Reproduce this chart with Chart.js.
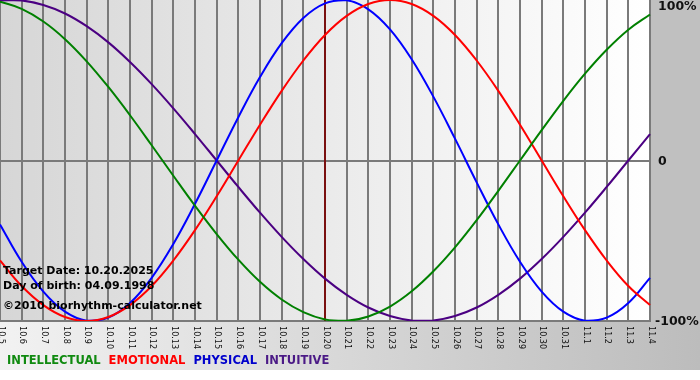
<!DOCTYPE html>
<html><head><meta charset="utf-8">
<script src="https://cdn.jsdelivr.net/npm/chart.js@4"></script>
<style>html,body{margin:0;padding:0;background:#fff;overflow:hidden}#wrap{width:700px;height:380px}</style>
</head><body><div id="wrap"><canvas id="c" width="700" height="380"></canvas></div>
<script>
// ---- data ----
const categories = ['10.5','10.6','10.7','10.8','10.9','10.10','10.11','10.12','10.13','10.14','10.15','10.16','10.17','10.18','10.19','10.20','10.21','10.22','10.23','10.24','10.25','10.26','10.27','10.28','10.29','10.30','10.31','11.1','11.2','11.3','11.4'];
const intellectual = [0.990,0.945,0.866,0.756,0.618,0.458,0.282,0.095,-0.095,-0.282,-0.458,-0.618,-0.756,-0.866,-0.945,-0.990,-0.999,-0.972,-0.910,-0.815,-0.690,-0.541,-0.372,-0.189,0,0.189,0.372,0.541,0.690,0.815,0.910];
const emotional    = [-0.623,-0.782,-0.901,-0.975,-1,-0.975,-0.901,-0.782,-0.623,-0.434,-0.223,0,0.223,0.434,0.623,0.782,0.901,0.975,1,0.975,0.901,0.782,0.623,0.434,0.223,0,-0.223,-0.434,-0.623,-0.782,-0.901];
const physical     = [-0.398,-0.631,-0.817,-0.942,-0.998,-0.979,-0.888,-0.731,-0.520,-0.270,0,0.270,0.520,0.731,0.888,0.979,0.998,0.942,0.817,0.631,0.398,0.136,-0.136,-0.398,-0.631,-0.817,-0.942,-0.998,-0.979,-0.888,-0.731];
const intuitive    = [0.997,0.997,0.969,0.916,0.837,0.736,0.614,0.476,0.325,0.165,0,-0.165,-0.325,-0.476,-0.614,-0.736,-0.837,-0.916,-0.969,-0.997,-0.997,-0.969,-0.916,-0.837,-0.736,-0.614,-0.476,-0.325,-0.165,0,0.165];
const seriesNames  = ['INTELLECTUAL','EMOTIONAL','PHYSICAL','INTUITIVE'];
const yTickValues  = [1, 0, -1];
const yTickLabels  = ['100%','0','-100%'];
const targetDate   = '10.20';
const infoLines    = ['Target Date: 10.20.2025','Day of birth: 04.09.1998','\u00A92010 biorhythm-calculator.net'];

// ---- styles ----
const colors = ['#008000','#ff0000','#0000ff','#4b0082'];
const legendColors = ['#108a10','#ff0000','#0000cc','#4b1a86'];
const gridColor = '#7a7a7a';

const bgPlugin = {
  id: 'bg',
  beforeDraw(chart) {
    const {ctx, chartArea: a, width, height} = chart;
    ctx.save();
    ctx.fillStyle = '#ffffff';
    ctx.fillRect(0, 0, width, height);
    ctx.fillStyle = '#c0c0c0';
    ctx.fillRect(a.right, 0, width - a.right, a.bottom);
    let g = ctx.createLinearGradient(0, 0, width, 0);
    g.addColorStop(0, '#f2f2f2');
    g.addColorStop(1, '#bcbcbc');
    ctx.fillStyle = g;
    ctx.fillRect(0, a.bottom, width, 49);
    g = ctx.createLinearGradient(a.left, 0, a.right, 0);
    g.addColorStop(0, '#d6d6d6');
    g.addColorStop(1, '#ffffff');
    ctx.fillStyle = g;
    ctx.fillRect(a.left, a.top, a.right - a.left, a.bottom - a.top);
    ctx.restore();
  },
  beforeDatasetsDraw(chart) {
    const {ctx, chartArea: a} = chart;
    const xs = chart.scales.x;
    const x = xs.getPixelForValue(categories.indexOf(targetDate));
    ctx.save();
    ctx.strokeStyle = '#7a1010';
    ctx.lineWidth = 2;
    ctx.beginPath();
    ctx.moveTo(x, a.top);
    ctx.lineTo(x, a.bottom);
    ctx.stroke();
    ctx.restore();
  },
  afterDraw(chart) {
    const {ctx, chartArea: a} = chart;
    const xs = chart.scales.x, ys = chart.scales.y;
    ctx.save();
    // x tick labels, rotated clockwise
    ctx.fillStyle = '#111';
    ctx.font = '9px "DejaVu Sans Condensed", "DejaVu Sans", sans-serif';
    ctx.textAlign = 'left';
    ctx.textBaseline = 'middle';
    categories.forEach((c, i) => {
      const x = xs.getPixelForValue(i);
      ctx.save();
      ctx.translate(x + 1, a.bottom + 5);
      ctx.rotate(Math.PI / 2);
      ctx.fillText(c, 0, 0);
      ctx.restore();
    });
    // y labels
    ctx.font = 'bold 12.5px "DejaVu Sans", sans-serif';
    ctx.fillStyle = '#111';
    yTickValues.forEach((v, i) => {
      let y = ys.getPixelForValue(v) + 1.5;
      y = Math.min(Math.max(y, a.top + 7), a.bottom + 1);
      const lx = yTickLabels[i].startsWith('-') ? a.right + 5 : a.right + 8;
      ctx.fillText(yTickLabels[i], lx, y);
    });
    // info text
    ctx.font = 'bold 11px "DejaVu Sans", sans-serif';
    ctx.fillStyle = '#000';
    const offs = [50, 35, 15];
    infoLines.forEach((t, i) => ctx.fillText(t, a.left + 3, a.bottom - offs[i]));
    // legend
    ctx.font = 'bold 11.5px "DejaVu Sans", sans-serif';
    let lx = a.left + 7;
    chart.data.datasets.forEach((ds, i) => {
      ctx.fillStyle = legendColors[i];
      ctx.fillText(ds.label, lx, a.bottom + 40);
      lx += ctx.measureText(ds.label).width + 8;
    });
    ctx.restore();
  }
};

const series = [intellectual, emotional, physical, intuitive];
new Chart(document.getElementById('c'), {
  type: 'line',
  data: {
    labels: categories,
    datasets: series.map((d, i) => ({
      label: seriesNames[i],
      data: d,
      borderColor: colors[i],
      backgroundColor: colors[i],
      borderWidth: 2,
      pointRadius: 0,
      tension: 0.4,
      fill: false
    }))
  },
  options: {
    responsive: false,
    animation: false,
    devicePixelRatio: 1,
    layout: { padding: { left: 0, right: 50, top: 0, bottom: 59 } },
    plugins: { legend: { display: false }, tooltip: { enabled: false } },
    scales: {
      x: {
        offset: false,
        grid: { color: gridColor, lineWidth: 2, drawTicks: false },
        border: { display: true, color: gridColor, width: 2 },
        ticks: { display: false }
      },
      y: {
        position: 'right',
        min: -1, max: 1,
        ticks: { display: false, stepSize: 1 },
        grid: { drawTicks: false, lineWidth: 2, color: c => c.tick && c.tick.value === 0 ? gridColor : 'rgba(0,0,0,0)' },
        border: { display: false }
      }
    }
  },
  plugins: [bgPlugin]
});
</script></body></html>
